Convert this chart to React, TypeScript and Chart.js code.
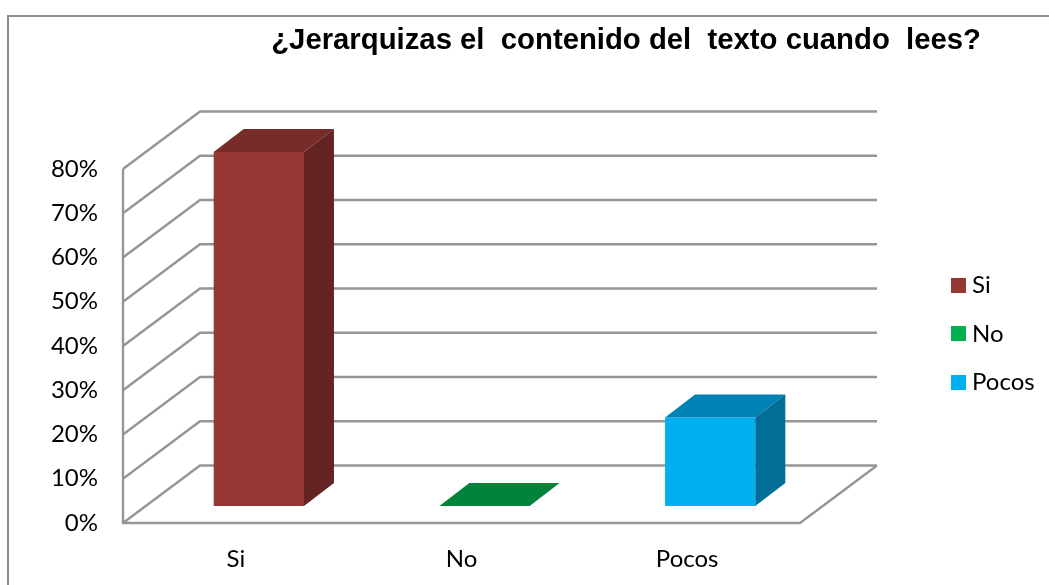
import React, { useEffect, useRef } from "react";
import { Chart, registerables } from "chart.js";

Chart.register(...registerables);

const titleText = "¿Jerarquizas el  contenido del  texto cuando  lees?";
const categories = ["Si", "No", "Pocos"];
const percentValues = [80, 0, 20];
const frontColors = ["#953735", "#00B050", "#00B0F0"];
const topColors = ["#772C2A", "#00843C", "#0083B4"];
const sideColors = ["#632423", "#006E32", "#006E96"];
const legendSwatchColors = ["#953735", "#00B050", "#00B0F0"];

const GRID = "#969696";
const WALL_DX = 77;
const WALL_DY = -57.5;
const BAR_SHIFT_X = 23;
const BAR_SHIFT_Y = -17;
const BAR_DX = 30;
const BAR_DY = -23;

function swatch(color: string) {
  const c = document.createElement("canvas");
  c.width = 15;
  c.height = 15;
  const g = c.getContext("2d")!;
  g.fillStyle = color;
  g.fillRect(0, 0, 15, 15);
  return c;
}

function poly(ctx: CanvasRenderingContext2D, color: string, pts: number[][]) {
  ctx.fillStyle = color;
  ctx.beginPath();
  pts.forEach((p, i) => (i ? ctx.lineTo(p[0], p[1]) : ctx.moveTo(p[0], p[1])));
  ctx.closePath();
  ctx.fill();
}

const scene3d = {
  id: "scene3d",
  beforeLayout(chart: any) {
    const legend = chart.legend;
    if (legend && !legend.__wrapped) {
      const fit = legend.fit;
      legend.fit = function () {
        fit.call(this);
        this.width = 181;
      };
      legend.__wrapped = true;
    }
  },
  afterLayout(chart: any) {
    const legend = chart.legend;
    legend.left = 957 - 24.3;
    legend.right = 1049;
    legend.top = 249.2;
    legend.bottom = 249.2 + 170;
  },
  beforeDraw(chart: any) {
    const ctx = chart.ctx;
    ctx.save();
    ctx.fillStyle = "#ffffff";
    ctx.fillRect(0, 0, chart.width, chart.height);
    ctx.strokeStyle = "#8C8C8C";
    ctx.lineWidth = 2;
    ctx.beginPath();
    ctx.moveTo(8, chart.height);
    ctx.lineTo(8, 16);
    ctx.lineTo(chart.width, 16);
    ctx.stroke();
    ctx.restore();
  },
  beforeDatasetsDraw(chart: any) {
    const ctx = chart.ctx;
    const { left, right, top, bottom } = chart.chartArea;
    const y = chart.scales.y;
    ctx.save();
    ctx.strokeStyle = GRID;
    ctx.lineWidth = 2.4;
    ctx.lineJoin = "miter";
    y.ticks.forEach((t: any) => {
      const py = y.getPixelForValue(t.value);
      ctx.beginPath();
      ctx.moveTo(left, py);
      ctx.lineTo(left + WALL_DX, py + WALL_DY);
      ctx.lineTo(right + WALL_DX, py + WALL_DY);
      ctx.stroke();
    });
    ctx.beginPath();
    ctx.moveTo(left, top);
    ctx.lineTo(left, bottom);
    ctx.lineTo(right, bottom);
    ctx.lineTo(right + WALL_DX, bottom + WALL_DY);
    ctx.stroke();
    ctx.restore();
    ctx.save();
    ctx.translate(BAR_SHIFT_X, BAR_SHIFT_Y);
  },
  afterDatasetsDraw(chart: any) {
    const ctx = chart.ctx;
    chart.getDatasetMeta(0).data.forEach((bar: any, i: number) => {
      const l = bar.x - bar.width / 2;
      const r = bar.x + bar.width / 2;
      const t = bar.y;
      const b = bar.base;
      poly(ctx, topColors[i], [
        [l, t],
        [l + BAR_DX, t + BAR_DY],
        [r + BAR_DX, t + BAR_DY],
        [r, t],
      ]);
      if (b - t > 0) {
        poly(ctx, sideColors[i], [
          [r, t],
          [r + BAR_DX, t + BAR_DY],
          [r + BAR_DX, b + BAR_DY],
          [r, b],
        ]);
      }
    });
    ctx.restore();
  },
};

export default function App() {
  const ref = useRef<HTMLCanvasElement>(null);
  useEffect(() => {
    const font = { family: "Lato", size: 24 };
    const chart = new Chart(ref.current!, {
      type: "bar",
      data: {
        labels: categories,
        datasets: [
          {
            data: percentValues,
            backgroundColor: frontColors,
            borderWidth: 0,
            barPercentage: 1,
            categoryPercentage: 0.4,
            clip: false,
          } as any,
        ],
      },
      options: {
        responsive: false,
        animation: false,
        layout: { padding: { left: 0, right: 68, top: 0, bottom: 0 } },
        scales: {
          x: {
            grid: { display: false },
            border: { display: false },
            ticks: { font, color: "#000000", padding: 14, maxRotation: 0 },
            afterFit(scale: any) {
              scale.height = 62;
            },
          },
          y: {
            min: 0,
            max: 80,
            grid: { display: false },
            border: { display: false },
            ticks: {
              font,
              color: "#000000",
              padding: 17,
              stepSize: 10,
              callback: (v: any) => `${v}%`,
            },
            afterFit(scale: any) {
              scale.width = 123;
            },
          },
        },
        plugins: {
          tooltip: { enabled: false },
          title: {
            display: true,
            text: titleText,
            align: "end",
            color: "#000000",
            font: { family: "Liberation Sans", size: 29.3, weight: "bold", lineHeight: 1.2 },
            padding: { top: 23, bottom: 110.84 },
          },
          legend: {
            display: true,
            position: "right",
            align: "start",
            labels: {
              font,
              color: "#000000",
              padding: 24.3,
              usePointStyle: true,
              pointStyleWidth: 3,
              generateLabels: () =>
                categories.map((text, i) => ({
                  text,
                  fillStyle: legendSwatchColors[i],
                  strokeStyle: legendSwatchColors[i],
                  lineWidth: 0,
                  pointStyle: swatch(legendSwatchColors[i]),
                  datasetIndex: 0,
                  index: i,
                })),
            },
          },
        },
      },
      plugins: [scene3d],
    } as any);
    return () => chart.destroy();
  }, []);
  return (
    <canvas
      ref={ref}
      width={1049}
      height={585}
      style={{ position: "fixed", left: 0, top: 0, width: 1049, height: 585, display: "block" }}
    />
  );
}
